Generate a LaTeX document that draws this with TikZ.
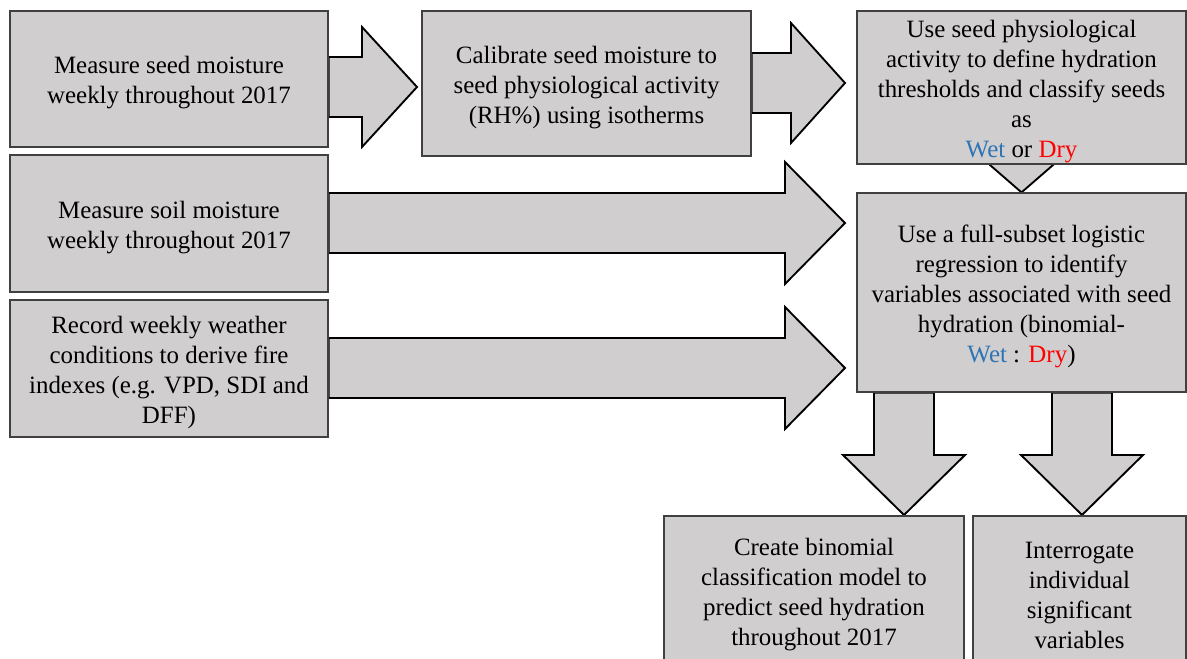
\documentclass[tikz,border=0pt]{standalone}
\usepackage{fontspec}
\setmainfont{Liberation Serif}
\usetikzlibrary{calc}
\definecolor{boxfill}{HTML}{D0CECE}
\definecolor{boxline}{HTML}{404040}
\definecolor{wetblue}{HTML}{2E75B6}
\definecolor{dryred}{HTML}{FF0000}
\pgfdeclarelayer{bg}
\pgfsetlayers{bg,main}
% right block arrow: #1 from node, #2 head base x, #3 tip x, #4 centre y, #5 shaft half, #6 head half
\newcommand\rblock[6]{%
  \coordinate (tmpc) at (#2,#4);
  \path (#1.east |- tmpc) coordinate (sbase);
  \draw[blockarrow] ($(sbase)+(0,-#5)$) -- (#2,#4-#5) -- (#2,#4-#6) -- (#3,#4)
    -- (#2,#4+#6) -- (#2,#4+#5) -- ($(sbase)+(0,#5)$) -- cycle;}
% down block arrow: #1 from node, #2 centre x, #3 head base y, #4 tip y, #5 shaft half, #6 head half
\newcommand\dblock[6]{%
  \coordinate (tmpc) at (#2,#3);
  \path (#1.south -| tmpc) coordinate (sbase);
  \draw[blockarrow] ($(sbase)+(-#5,0)$) -- (#2-#5,#3) -- (#2-#6,#3) -- (#2,#4)
    -- (#2+#6,#3) -- (#2+#5,#3) -- ($(sbase)+(#5,0)$) -- cycle;}
\newcommand\topstrut{\rule{0pt}{19pt}}
\begin{document}
\begin{tikzpicture}[x=0.75pt,y=-0.75pt,
  box/.style={draw=boxline,fill=boxfill,line width=0.9pt,inner sep=0pt,align=center,
    font=\fontsize{18.7}{22.5}\selectfont},
  bw/.style={minimum width=#1*0.75pt},
  bh/.style={minimum height=#1*0.75pt},
  blockarrow/.style={draw=black,fill=boxfill,line width=1.4pt,line join=miter}]
\useasboundingbox (0,0) rectangle (1187,659);

\node[box,bw=318,bh=136] (b1) at (169,79) {\topstrut Measure seed moisture\\weekly throughout 2017};
\node[box,bw=329,bh=145] (b2) at (586.5,83.5) {\topstrut Calibrate seed moisture to\\seed physiological activity\\(RH\%) using isotherms};
\node[box,bw=329,bh=153] (b3) at (1021.5,87.5) {\topstrut Use seed physiological\\activity to define hydration\\thresholds and classify seeds\\as\\{\color{wetblue}Wet} or {\color{dryred}Dry}};
\node[box,bw=318,bh=137] (b7) at (169,223.5) {\topstrut Measure soil moisture\\weekly throughout 2017};
\node[box,bw=318,bh=137] (b8) at (169,368.5) {\topstrut Record weekly weather\\conditions to derive fire\\indexes (e.g. VPD, SDI and\\DFF)};
\node[box,bw=329,bh=199] (b4) at (1021.5,292.5) {\topstrut Use a full-subset logistic\\regression to identify\\variables associated with seed\\hydration (binomial-\\{\color{wetblue}Wet} : {\color{dryred}Dry})};
\node[box,bw=300,bh=150] (b5) at (814,591) {\topstrut Create binomial\\classification model to\\predict seed hydration\\throughout 2017};
\node[box,bw=213,bh=150] (b6) at (1079.5,591) {\topstrut Interrogate\\individual\\significant\\variables};

\begin{pgfonlayer}{bg}
  \rblock{b1}{362}{417}{87}{30}{60}
  \rblock{b2}{791}{845}{83}{30}{60}
  \rblock{b7}{785}{845}{223}{30}{61}
  \rblock{b8}{785}{845}{368}{30}{61}
  \dblock{b4}{904}{455}{515}{30}{61}
  \dblock{b4}{1082}{455}{515}{30}{61}
  \fill[boxfill] ($(b3.south)+(-32,0)$) -- (b4.north) -- ($(b3.south)+(32,0)$) -- cycle;
  \draw[line width=1.4pt,line join=miter] ($(b3.south)+(-32,0)$) -- (b4.north) -- ($(b3.south)+(32,0)$);
\end{pgfonlayer}
\end{tikzpicture}
\end{document}
